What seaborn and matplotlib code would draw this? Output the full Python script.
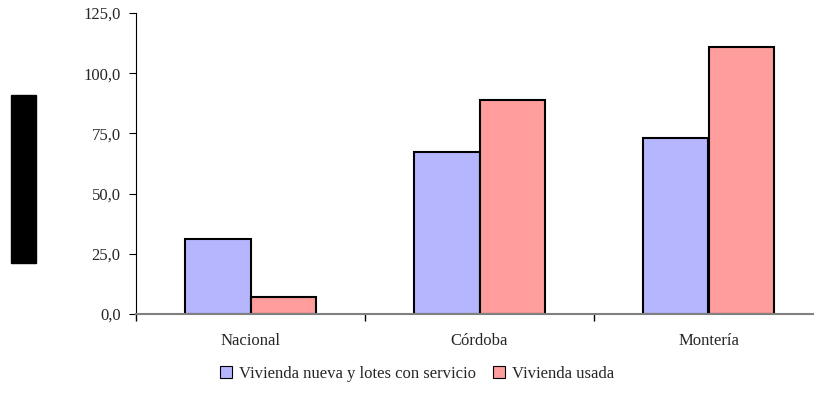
"""Recreate the vivienda bar chart (Nacional / Córdoba / Montería)."""
import numpy as np
import pandas as pd
import matplotlib
matplotlib.use("Agg")
import matplotlib.pyplot as plt
import matplotlib.patches as mpatches
import seaborn as sns
from matplotlib.ticker import FuncFormatter

# ── data ──────────────────────────────────────────────────────────────────────
CATEGORIES = ["Nacional", "Córdoba", "Montería"]
SERIES     = ["Vivienda nueva y lotes con servicio", "Vivienda usada"]
NUEVA      = [31.0, 67.2, 73.0]
USADA      = [6.9, 88.7, 111.0]
YTICKS     = [0, 25, 50, 75, 100, 125]
BLUE, RED  = "#b6b6ff", "#ff9c9c"

df = pd.DataFrame({
    "cat":   CATEGORIES * 2,
    "serie": [SERIES[0]] * 3 + [SERIES[1]] * 3,
    "val":   NUEVA + USADA,
})

sns.set_style("white")
plt.rcParams["font.family"] = ["Liberation Serif", "DejaVu Serif"]

fig = plt.figure(figsize=(8.14, 4.12), dpi=100)
# axes runs a little past the right edge of the figure, as in the reference
ax = fig.add_axes([136/814, 1 - 314/412, 687/814, 301/412])

sns.barplot(data=df, x="cat", y="val", hue="serie", order=CATEGORIES,
            hue_order=SERIES, palette=[BLUE, RED], width=0.57, gap=0,
            edgecolor="black", linewidth=1.5, saturation=1, ax=ax, legend=False)

ax.set_ylim(0, 125)
ax.set_xlim(-0.5, 2.5)
ax.set_yticks(YTICKS)
ax.yaxis.set_major_formatter(FuncFormatter(lambda v, _: f"{v:.1f}".replace(".", ",")))
ax.set_xlabel(""); ax.set_ylabel("")
ax.set_xticks([0, 1, 2])
ax.set_xticklabels(CATEGORIES)
ax.set_xticks([-0.5, 0.5, 1.5], minor=True)
ax.tick_params(axis="x", which="major", bottom=False, length=0, pad=14, labelsize=12)
ax.tick_params(axis="x", which="minor", bottom=True, length=5, color="black",
               width=1.0, direction="out")
ax.tick_params(axis="y", left=True, length=5, color="black", width=0.8,
               direction="out", labelsize=12, pad=6)
for s in ["top", "right"]:
    ax.spines[s].set_visible(False)
ax.spines["left"].set_color("black")
ax.spines["left"].set_linewidth(0.8)
ax.spines["bottom"].set_color("#808080")
ax.spines["bottom"].set_linewidth(1.5)

# black block where the y-axis title was rendered
fig.patches.append(mpatches.Rectangle((11/814, 1 - 263/412), 25/814, 168/412,
                                      transform=fig.transFigure, color="black"))

handles = [mpatches.Patch(facecolor=c, edgecolor="black", linewidth=0.8)
           for c in [BLUE, RED]]
fig.legend(handles, SERIES, loc="center", bbox_to_anchor=(0.512, 0.092), ncol=2,
           frameon=False, fontsize=12, handlelength=0.75, handleheight=0.75,
           handletextpad=0.4, columnspacing=1.0)

fig.savefig("out.png", dpi=100)
